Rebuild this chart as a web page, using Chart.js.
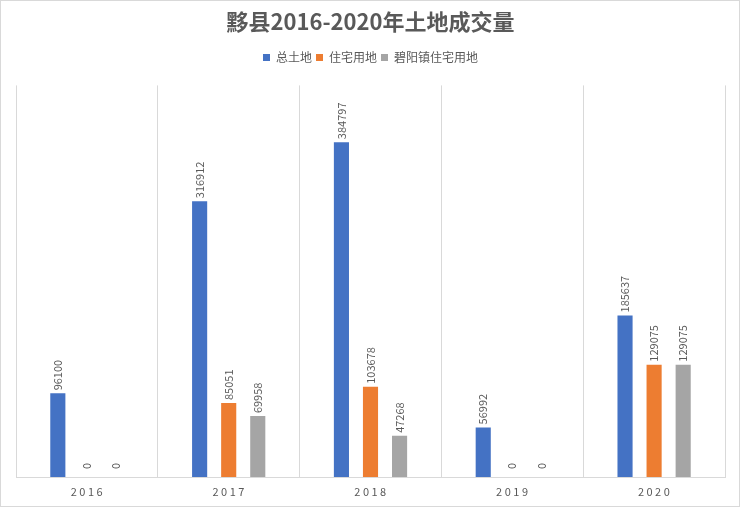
<!DOCTYPE html>
<html>
<head>
<meta charset="utf-8">
<script src="https://cdn.jsdelivr.net/npm/chart.js@4"></script>
<style>
    html, body { margin: 0; padding: 0; background: #fff; }
    #wrap { position: relative; width: 738px; height: 505px; border: 1px solid #d9d9d9; }
</style>
</head>
<body>
<div id="wrap"><canvas id="landChart"></canvas></div>
<script>
// Data
const years = ['2016', '2017', '2018', '2019', '2020'];
const totalLand = [96100, 316912, 384797, 56992, 185637];
const residential = [0, 85051, 103678, 0, 129075];
const biyangResidential = [0, 69958, 47268, 0, 129075];

const textColor = '#595959';
const cjkFont = '"Noto Sans CJK SC", "Noto Sans", sans-serif';

// Extra space under the legend
const legendMargin = {
    id: 'legendMargin',
    beforeInit(chart) {
        const fit = chart.legend.fit;
        chart.legend.fit = function() {
            fit.bind(chart.legend)();
            this.height += 12;
        };
    }
};

// Rotated value labels above each bar
const barLabels = {
    id: 'barLabels',
    afterDatasetsDraw(chart) {
        const ctx = chart.ctx;
        ctx.save();
        ctx.fillStyle = textColor;
        ctx.font = '11px ' + cjkFont;
        ctx.textAlign = 'left';
        ctx.textBaseline = 'middle';
        chart.data.datasets.forEach((ds, i) => {
            const meta = chart.getDatasetMeta(i);
            meta.data.forEach((bar, j) => {
                const v = ds.data[j];
                const off = v === 0 ? 8 : 3;
                ctx.save();
                ctx.translate(bar.x, bar.y - off);
                ctx.rotate(-Math.PI / 2);
                ctx.fillText(String(v), 0, 0);
                ctx.restore();
            });
        });
        ctx.restore();
    }
};

// Category labels with spaced digits
const yearLabels = {
    id: 'yearLabels',
    afterDraw(chart) {
        const ctx = chart.ctx;
        const xScale = chart.scales.x;
        ctx.save();
        ctx.fillStyle = textColor;
        ctx.font = '11px ' + cjkFont;
        ctx.letterSpacing = '2.5px';
        ctx.textAlign = 'center';
        ctx.textBaseline = 'middle';
        years.forEach((y, i) => {
            ctx.fillText(y, xScale.getPixelForValue(i) + 1, chart.chartArea.bottom + 15);
        });
        ctx.restore();
    }
};

const ctx = document.getElementById('landChart').getContext('2d');
new Chart(ctx, {
    type: 'bar',
    data: {
        labels: years,
        datasets: [{
            label: '总土地',
            data: totalLand,
            backgroundColor: '#4472C4'
        }, {
            label: '住宅用地',
            data: residential,
            backgroundColor: '#ED7D31'
        }, {
            label: '碧阳镇住宅用地',
            data: biyangResidential,
            backgroundColor: '#A5A5A5'
        }]
    },
    options: {
        responsive: true,
        maintainAspectRatio: false,
        animation: false,
        layout: {
            padding: { left: 15, right: 14, top: 0, bottom: 29 }
        },
        plugins: {
            title: {
                display: true,
                text: '黟县2016-2020年土地成交量',
                color: textColor,
                font: { family: cjkFont, size: 22, weight: 'bold' },
                padding: { top: 7, bottom: 13 }
            },
            legend: {
                position: 'top',
                labels: {
                    color: textColor,
                    font: { family: cjkFont, size: 12 },
                    boxWidth: 7,
                    boxHeight: 7,
                    padding: 4
                }
            },
            tooltip: { enabled: false }
        },
        datasets: {
            bar: {
                categoryPercentage: 0.615,
                barPercentage: 0.52
            }
        },
        scales: {
            x: {
                offset: true,
                grid: {
                    display: true,
                    offset: true,
                    color: '#d9d9d9',
                    drawTicks: false
                },
                border: { display: true, color: '#d9d9d9' },
                ticks: { display: false }
            },
            y: {
                display: false,
                min: 0,
                max: 450000
            }
        }
    },
    plugins: [legendMargin, barLabels, yearLabels]
});
</script>
</body>
</html>
